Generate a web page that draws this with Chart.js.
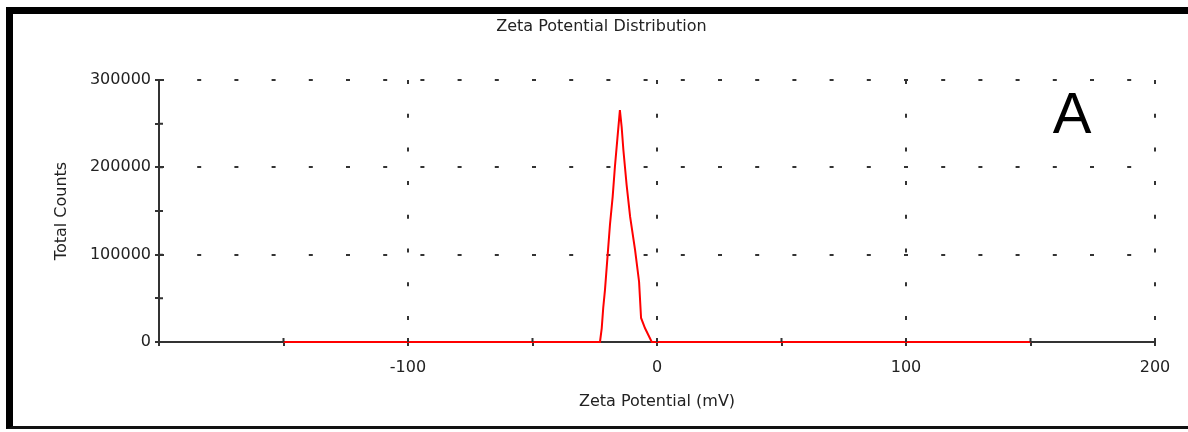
<!DOCTYPE html>
<html>
<head>
<meta charset="utf-8">
<title>Zeta Potential Distribution</title>
<script src="https://cdn.jsdelivr.net/npm/chart.js@4/dist/chart.umd.min.js"></script>
<style>
    html, body { margin: 0; padding: 0; background: #fff; }
    #wrap { position: relative; width: 1188px; height: 432px; overflow: hidden; }
    #zetaChart { position: absolute; left: 0; top: 0; }
    /* black frame round the figure (left, top, bottom only) */
    #frame {
        position: absolute; left: 6px; top: 7px; width: 1182px; height: 422px;
        border-left: 7px solid #000; border-top: 7px solid #000; border-bottom: 3px solid #111;
        box-sizing: border-box; pointer-events: none;
    }
</style>
</head>
<body>
<div id="wrap">
    <canvas id="zetaChart" width="1188" height="432"></canvas>
    <div id="frame"></div>
</div>
<script>
// Data
var zetaMv      = [-150, -22.9, -22.2, -21.6, -20.9, -18.9, -17.8, -16.9, -15.9, -14.9, -14.2, -13.5, -12.2, -10.8, -8.8, -7.2, -6.4, -4.8, -2.1, 150];
var totalCounts = [0, 0, 15700, 38900, 59500, 134000, 166400, 200700, 233200, 265600, 246500, 219800, 179800, 143500, 105300, 69000, 27500, 15700, 0, 0];

// Axis labels
var xLabelValues = [-100, 0, 100, 200];
var yLabelValues = [0, 100000, 200000, 300000];
var chartTitle = 'Zeta Potential Distribution';
var xTitle = 'Zeta Potential (mV)';
var yTitle = 'Total Counts';
var panelLetter = 'A';

(function() {
    'use strict';

    const FONT = '"DejaVu Sans", "Liberation Sans", Arial, sans-serif';
    const LETTER_FONT = '"Liberation Sans", Arial, sans-serif';
    const TEXT_COLOR = '#222';
    const AXIS_COLOR = '#333';

    Chart.defaults.font.family = FONT;

    _init();

    function _init(){
        var points = [];
        for (var i = 0; i < zetaMv.length; i++) {
            points.push({ x: zetaMv[i], y: totalCounts[i] });
        }
        new Chart(document.getElementById('zetaChart'), _configChart(points));
    }

    function _configChart(points){
        return {
            type: 'scatter',
            data: {
                datasets: [{
                    data: points,
                    showLine: true,
                    borderColor: '#ff0000',
                    backgroundColor: '#ff0000',
                    borderWidth: 2,
                    pointRadius: 0,
                    tension: 0,
                    clip: false
                }]
            },
            options: {
                responsive: false,
                animation: false,
                layout: { padding: { left: 48, right: 33, top: 0, bottom: 0 } },
                plugins: {
                    legend: { display: false },
                    tooltip: { enabled: false },
                    title: {
                        display: true,
                        text: chartTitle,
                        color: TEXT_COLOR,
                        font: { size: 16, weight: 'normal', lineHeight: 1.2 },
                        padding: { top: 17.4, bottom: 43.4 }
                    }
                },
                scales: {
                    x: {
                        type: 'linear',
                        position: 'bottom',
                        min: -200,
                        max: 200,
                        afterFit: function(scale){ scale.height = 90; },
                        ticks: {
                            stepSize: 50,
                            autoSkip: false,
                            maxRotation: 0,
                            padding: 12,
                            color: TEXT_COLOR,
                            font: { size: 16 },
                            callback: function(v){ return xLabelValues.indexOf(v) >= 0 ? String(v) : ''; }
                        },
                        grid: {
                            color: function(ctx){
                                var v = ctx.tick && ctx.tick.value;
                                return (v % 100 === 0 && v !== -200) ? AXIS_COLOR : 'rgba(0,0,0,0)';
                            },
                            lineWidth: 2,
                            tickLength: 4,
                            tickColor: AXIS_COLOR,
                            tickWidth: 2
                        },
                        border: { color: AXIS_COLOR, width: 2, dash: [4, 29.7] },
                        title: {
                            display: true,
                            text: xTitle,
                            color: TEXT_COLOR,
                            font: { size: 16, lineHeight: 1.2 },
                            padding: { top: 0, bottom: 20.4 }
                        }
                    },
                    y: {
                        min: 0,
                        max: 300000,
                        afterFit: function(scale){ scale.width = 111; },
                        ticks: {
                            stepSize: 50000,
                            autoSkip: false,
                            padding: 4,
                            color: TEXT_COLOR,
                            font: { size: 16 },
                            callback: function(v){ return yLabelValues.indexOf(v) >= 0 ? String(v) : ''; }
                        },
                        grid: {
                            color: function(ctx){
                                var v = ctx.tick && ctx.tick.value;
                                return (v % 100000 === 0 && v !== 0) ? AXIS_COLOR : 'rgba(0,0,0,0)';
                            },
                            lineWidth: 2,
                            tickLength: 4,
                            tickColor: AXIS_COLOR,
                            tickWidth: 2
                        },
                        border: { color: AXIS_COLOR, width: 2, dash: [4, 33.2] },
                        title: {
                            display: true,
                            text: yTitle,
                            color: TEXT_COLOR,
                            font: { size: 16, lineHeight: 1.2 },
                            padding: { top: 4.4, bottom: 0 }
                        }
                    }
                }
            },
            plugins: [_innerTicksPlugin()]
        };
    }

    // tick marks cross the axes (inner half) + panel letter
    function _innerTicksPlugin(){
        return {
            id: 'innerTicks',
            afterDatasetsDraw: function(chart){
                var ctx = chart.ctx;
                var area = chart.chartArea;
                var xs = chart.scales.x;
                var ys = chart.scales.y;
                ctx.save();
                ctx.strokeStyle = AXIS_COLOR;
                ctx.lineWidth = 2;
                ctx.beginPath();
                xs.ticks.forEach(function(t){
                    var px = xs.getPixelForValue(t.value);
                    ctx.moveTo(px, area.bottom);
                    ctx.lineTo(px, area.bottom - 4);
                });
                ys.ticks.forEach(function(t){
                    var py = ys.getPixelForValue(t.value);
                    ctx.moveTo(area.left, py);
                    ctx.lineTo(area.left + 4, py);
                });
                ctx.stroke();

                ctx.fillStyle = '#000';
                ctx.font = '58px ' + LETTER_FONT;
                ctx.textAlign = 'center';
                ctx.textBaseline = 'alphabetic';
                ctx.fillText(panelLetter, area.right - 83, area.top + 53);
                ctx.restore();
            }
        };
    }
})();
</script>
</body>
</html>
